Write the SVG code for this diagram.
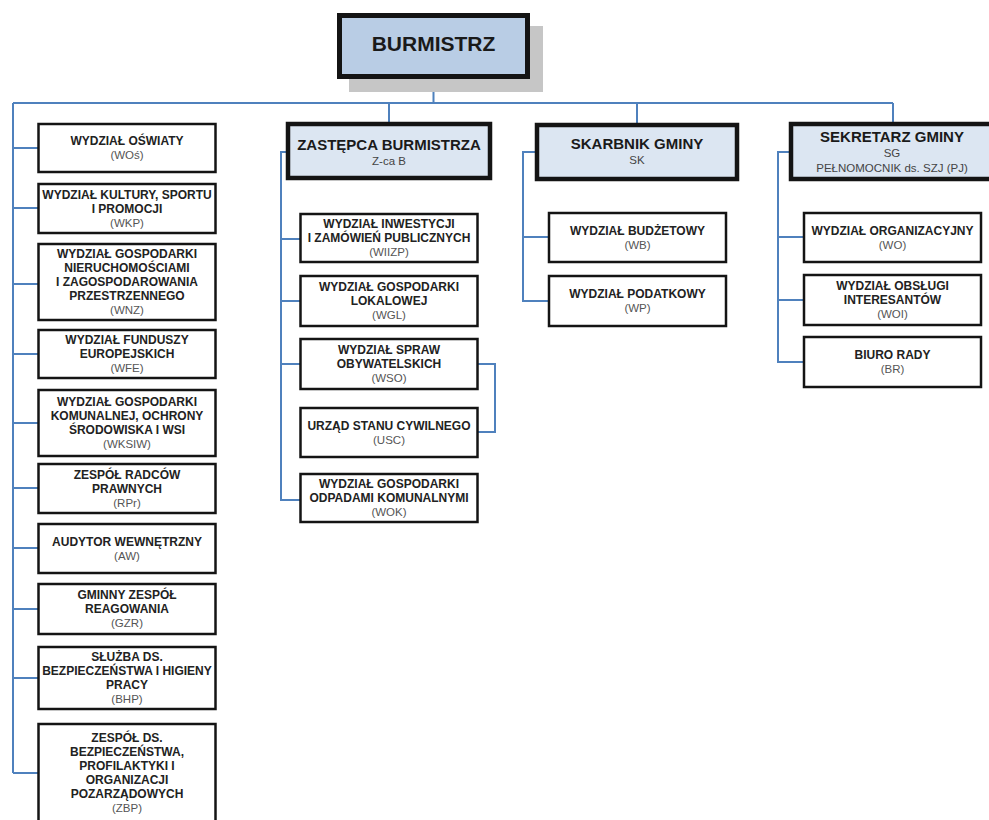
<svg xmlns="http://www.w3.org/2000/svg" width="989" height="820" viewBox="0 0 989 820">
<style>
.b rect{fill:#fff;stroke:#141414;stroke-width:2.5}
.h rect{fill:#dce6f2;stroke:#141414;stroke-width:4.5}
.t{font-family:"Liberation Sans",Arial,sans-serif;font-weight:bold;font-size:12px;text-anchor:middle;fill:#222}
.a{font-family:"Liberation Sans",Arial,sans-serif;font-size:11.5px;text-anchor:middle;fill:#555}
.ht{font-family:"Liberation Sans",Arial,sans-serif;font-weight:bold;font-size:15px;text-anchor:middle;fill:#1a1a1a}
.hs{font-family:"Liberation Sans",Arial,sans-serif;font-size:11.5px;text-anchor:middle;fill:#444}
#connectors path{fill:none;stroke:#4f81bd;stroke-width:2}
</style>
<rect width="989" height="820" fill="#fff"/>
<g id="connectors">
<path d="M433.5,79V103M13,103H893M389,103V123M637,103V123M893,103V123"/>
<path d="M13,103V773M13,148H38M13,208H38M13,284H38M13,354H38M13,423H38M13,488H38M13,548H38M13,609H38M13,678H38M13,773H38"/>
<path d="M288,152H281V500H301M281,239H301M281,301H301M281,364H301"/>
<path d="M478,364H495V432H478"/>
<path d="M537,152H523V301H549M523,237H549"/>
<path d="M791,152H778V362H804M778,237H804M778,300H804"/>
</g>
<g id="burmistrz">
<rect x="349" y="26" width="194" height="66" fill="#c6c6c6"/>
<rect x="339.5" y="15.5" width="188" height="61" fill="#b9cde5" stroke="#141414" stroke-width="5"/>
<text x="433.5" y="51" font-family="Liberation Sans,Arial,sans-serif" font-weight="bold" font-size="21" text-anchor="middle" fill="#1a1a1a">BURMISTRZ</text>
</g>
<g id="zastepca" class="h">
<rect x="288" y="124" width="202" height="54"/>
<text class="ht" x="389" y="150">ZASTĘPCA BURMISTRZA</text>
<text class="hs" x="389" y="165">Z-ca B</text>
</g>
<g id="skarbnik" class="h">
<rect x="537" y="125" width="200" height="54"/>
<text class="ht" x="637" y="148.5">SKARBNIK GMINY</text>
<text class="hs" x="637" y="163.5">SK</text>
</g>
<g id="sekretarz" class="h">
<rect x="791" y="124" width="204" height="55"/>
<text class="ht" x="892" y="141.5">SEKRETARZ GMINY</text>
<text class="hs" x="892" y="157">SG</text>
<text class="hs" x="892" y="172">PEŁNOMOCNIK ds. SZJ (PJ)</text>
</g>
<g id="wos" class="b"><rect x="38.5" y="124" width="177" height="48"/>
<text class="t" x="127" y="145.3">WYDZIAŁ OŚWIATY</text><text class="a" x="127" y="159">(WOś)</text></g>
<g id="wkp" class="b"><rect x="38.5" y="184" width="177" height="49"/>
<text class="t" x="127" y="199">WYDZIAŁ KULTURY, SPORTU</text><text class="t" x="127" y="213">I PROMOCJI</text><text class="a" x="127" y="227">(WKP)</text></g>
<g id="wnz" class="b"><rect x="38.5" y="244" width="177" height="76"/>
<text class="t" x="127" y="258">WYDZIAŁ GOSPODARKI</text><text class="t" x="127" y="272">NIERUCHOMOŚCIAMI</text><text class="t" x="127" y="286">I ZAGOSPODAROWANIA</text><text class="t" x="127" y="300">PRZESTRZENNEGO</text><text class="a" x="127" y="314">(WNZ)</text></g>
<g id="wfe" class="b"><rect x="38.5" y="330" width="177" height="48"/>
<text class="t" x="127" y="344">WYDZIAŁ FUNDUSZY</text><text class="t" x="127" y="358">EUROPEJSKICH</text><text class="a" x="127" y="372">(WFE)</text></g>
<g id="wksiw" class="b"><rect x="38.5" y="390" width="177" height="66"/>
<text class="t" x="127" y="406">WYDZIAŁ GOSPODARKI</text><text class="t" x="127" y="420">KOMUNALNEJ, OCHRONY</text><text class="t" x="127" y="434">ŚRODOWISKA I WSI</text><text class="a" x="127" y="448">(WKSIW)</text></g>
<g id="rpr" class="b"><rect x="38.5" y="464" width="177" height="49"/>
<text class="t" x="127" y="479">ZESPÓŁ RADCÓW</text><text class="t" x="127" y="493">PRAWNYCH</text><text class="a" x="127" y="507">(RPr)</text></g>
<g id="aw" class="b"><rect x="38.5" y="524" width="177" height="49"/>
<text class="t" x="127" y="546">AUDYTOR WEWNĘTRZNY</text><text class="a" x="127" y="560">(AW)</text></g>
<g id="gzr" class="b"><rect x="38.5" y="584" width="177" height="50"/>
<text class="t" x="127" y="599">GMINNY ZESPÓŁ</text><text class="t" x="127" y="613">REAGOWANIA</text><text class="a" x="127" y="627">(GZR)</text></g>
<g id="bhp" class="b"><rect x="38.5" y="647" width="177" height="62"/>
<text class="t" x="127" y="661">SŁUŻBA DS.</text><text class="t" x="127" y="675">BEZPIECZEŃSTWA I HIGIENY</text><text class="t" x="127" y="689">PRACY</text><text class="a" x="127" y="703">(BHP)</text></g>
<g id="zbp" class="b"><rect x="38.5" y="724" width="177" height="98"/>
<text class="t" x="127" y="742">ZESPÓŁ DS.</text><text class="t" x="127" y="756">BEZPIECZEŃSTWA,</text><text class="t" x="127" y="770">PROFILAKTYKI I</text><text class="t" x="127" y="784">ORGANIZACJI</text><text class="t" x="127" y="798">POZARZĄDOWYCH</text><text class="a" x="127" y="812">(ZBP)</text></g>
<g id="wiizp" class="b"><rect x="300.5" y="214" width="177" height="48"/>
<text class="t" x="389" y="228">WYDZIAŁ INWESTYCJI</text><text class="t" x="389" y="242">I ZAMÓWIEŃ PUBLICZNYCH</text><text class="a" x="389" y="256">(WIIZP)</text></g>
<g id="wgl" class="b"><rect x="300.5" y="276" width="177" height="50"/>
<text class="t" x="389" y="291">WYDZIAŁ GOSPODARKI</text><text class="t" x="389" y="305">LOKALOWEJ</text><text class="a" x="389" y="319">(WGL)</text></g>
<g id="wso" class="b"><rect x="300.5" y="339" width="177" height="50"/>
<text class="t" x="389" y="354">WYDZIAŁ SPRAW</text><text class="t" x="389" y="368">OBYWATELSKICH</text><text class="a" x="389" y="382">(WSO)</text></g>
<g id="usc" class="b"><rect x="300.5" y="408" width="177" height="49"/>
<text class="t" x="389" y="430">URZĄD STANU CYWILNEGO</text><text class="a" x="389" y="444">(USC)</text></g>
<g id="wok" class="b"><rect x="300.5" y="474" width="177" height="48"/>
<text class="t" x="389" y="488">WYDZIAŁ GOSPODARKI</text><text class="t" x="389" y="502">ODPADAMI KOMUNALNYMI</text><text class="a" x="389" y="516">(WOK)</text></g>
<g id="wb" class="b"><rect x="549" y="213" width="177" height="49"/>
<text class="t" x="637.5" y="235">WYDZIAŁ BUDŻETOWY</text><text class="a" x="637.5" y="249">(WB)</text></g>
<g id="wp" class="b"><rect x="549" y="276" width="177" height="50"/>
<text class="t" x="637.5" y="298">WYDZIAŁ PODATKOWY</text><text class="a" x="637.5" y="312">(WP)</text></g>
<g id="wo" class="b"><rect x="804" y="213" width="177" height="49"/>
<text class="t" x="892.5" y="235">WYDZIAŁ ORGANIZACYJNY</text><text class="a" x="892.5" y="249">(WO)</text></g>
<g id="woi" class="b"><rect x="804" y="275" width="177" height="50"/>
<text class="t" x="892.5" y="290">WYDZIAŁ OBSŁUGI</text><text class="t" x="892.5" y="304">INTERESANTÓW</text><text class="a" x="892.5" y="318">(WOI)</text></g>
<g id="br" class="b"><rect x="804" y="337" width="177" height="50"/>
<text class="t" x="892.5" y="359">BIURO RADY</text><text class="a" x="892.5" y="373">(BR)</text></g>
</svg>
